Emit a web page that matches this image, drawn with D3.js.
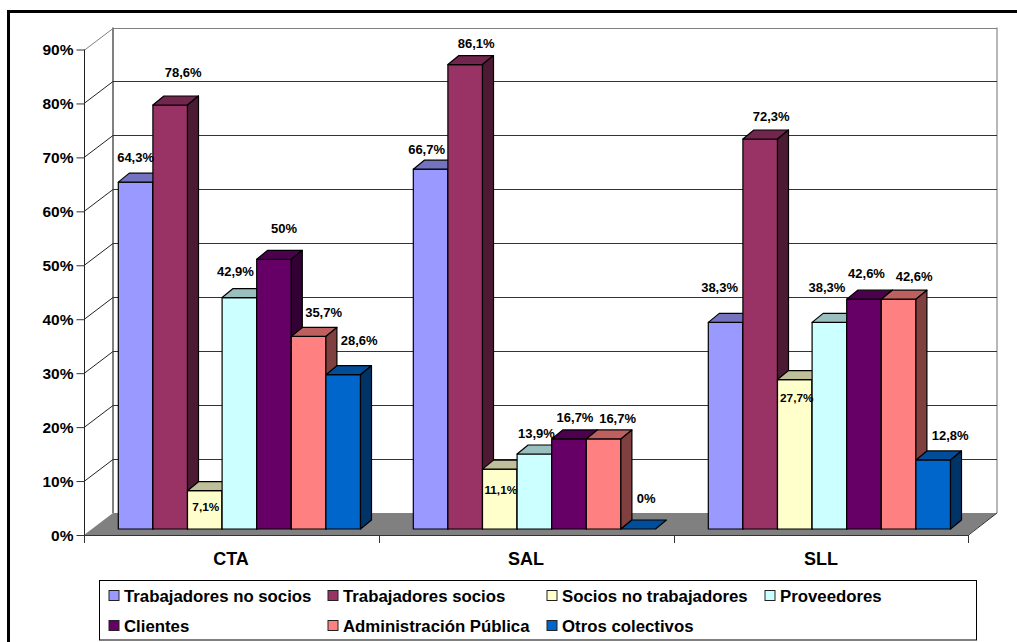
<!DOCTYPE html>
<html><head><meta charset="utf-8">
<script src="https://cdnjs.cloudflare.com/ajax/libs/d3/7.8.5/d3.min.js"></script>
<style>html,body{margin:0;padding:0;background:#fff}svg{display:block}text{font-family:"Liberation Sans",Arial,sans-serif;font-weight:bold;fill:#000}</style>
</head><body><svg id="c" width="1017" height="642"></svg>
<script>
const categories = ["CTA","SAL","SLL"];
const seriesNames = ["Trabajadores no socios","Trabajadores socios","Socios no trabajadores","Proveedores","Clientes","Administración Pública","Otros colectivos"];
const trabajadoresNoSocios = [64.3,66.7,38.3];
const trabajadoresSocios = [78.6,86.1,72.3];
const sociosNoTrabajadores = [7.1,11.1,27.7];
const proveedores = [42.9,13.9,38.3];
const clientes = [50,16.7,42.6];
const administracionPublica = [35.7,16.7,42.6];
const otrosColectivos = [28.6,0,12.8];
const yTicks = [0,10,20,30,40,50,60,70,80,90];
const seriesValues = [trabajadoresNoSocios,trabajadoresSocios,sociosNoTrabajadores,proveedores,clientes,administracionPublica,otrosColectivos];
const colors = ["#9999FF","#993366","#FFFFCC","#CCFFFF","#660066","#FF8080","#0066CC"];

// label placement, as offsets (dx, dy) from the bar's front-top centre: [series][category]
const labelOffsets = [
 [[0,-25],[-4,-20],[-6,-35]],
 [[13,-33],[11,-21],[11,-23]],
 [[1,16],[1,21],[2,18.5]],
 [[-4,-26],[2,-21],[-2.5,-35]],
 [[10,-31],[6,-21.5],[2.5,-26]],
 [[15,-24],[14,-20.5],[15.5,-23]],
 [[16,-34],[8,-31],[17,-24.5]]
];

const fmt = v => String(v).replace(".",",")+"%";
const svg = d3.select("#c");
const X0=84, X1=968, Y0=535, Y90=49.5, DX=29, DY=22;
const BAR_INSET_Y=6, BAR_DX=11, BAR_DY=9;
const y = d3.scaleLinear().domain([0,90]).range([Y0,Y90]);
const xCat = d3.scaleBand().domain(categories).range([X0,X1+1]);
const xBar = d3.scaleBand().domain(d3.range(seriesNames.length)).range([34.3,34.3+34.6*7]);

// outer frame
svg.append("path").attr("d","M8.5,642V11.5H1017").attr("fill","none").attr("stroke","#000").attr("stroke-width",3);

// floor
svg.append("polygon").attr("points",[[X0,Y0],[X1,Y0],[X1+DX,Y0-DY],[X0+DX,Y0-DY]].join(" ")).attr("fill","#808080");

// walls
const wall="#808080";
svg.append("line").attr("x1",X0+DX).attr("x2",X0+DX).attr("y1",y(90)-DY).attr("y2",Y0-DY).attr("stroke",wall).attr("stroke-width",2);
svg.append("line").attr("x1",X1+DX).attr("x2",X1+DX).attr("y1",y(90)-DY).attr("y2",Y0-DY).attr("stroke","#a0a0a0").attr("stroke-width",1.5);
yTicks.forEach(t=>{
  const yy=Math.round(y(t))+.5;
  if(t>0) svg.append("line").attr("x1",X0+DX).attr("x2",X1+DX).attr("y1",yy-DY).attr("y2",yy-DY).attr("stroke",t==90?"#808080":"#333").attr("stroke-width",1);
  if(t>0) svg.append("line").attr("x1",X0).attr("x2",X0+DX).attr("y1",yy).attr("y2",yy-DY).attr("stroke",t==90?"#808080":"#222").attr("stroke-width",1);
});

// axes
const yAxis=d3.axisLeft(y).tickValues(yTicks).tickSize(8).tickFormat(d=>d+"%");
const ga=svg.append("g").attr("transform",`translate(${X0+.5},0)`).call(yAxis);
ga.select(".domain").attr("stroke","#222").attr("d",`M0,${y(90)}V${Y0}`);
ga.selectAll("line").attr("stroke","#333");
ga.selectAll("text").attr("font-size",15.5).attr("x",-11).attr("dy","0.33em").attr("fill","#000");
svg.append("path").attr("d",`M${X0},${Y0+.5}H${X1}L${X1+DX},${Y0-DY}`).attr("fill","none").attr("stroke","#333");
[0,1,2,3].forEach(i=>{
  const xx=Math.min(Math.round(X0+i*xCat.bandwidth()),X1)+.5;
  svg.append("line").attr("x1",xx).attr("x2",xx).attr("y1",Y0).attr("y2",Y0+8).attr("stroke","#333");
});
categories.forEach(c=>{
  svg.append("text").attr("x",xCat(c)+xCat.bandwidth()/2-.5).attr("y",565).attr("text-anchor","middle").attr("font-size",18).text(c);
});

// bars
const shade=(c,k)=>{const r=d3.rgb(c);return d3.rgb(r.r*k,r.g*k,r.b*k).formatHex();};
const barBase=Y0-BAR_INSET_Y;
const labels=[];
categories.forEach((c,ci)=>{
  seriesNames.forEach((s,si)=>{
    const v=seriesValues[si][ci];
    const x0=xCat(c)+xBar(si), w=xBar.bandwidth();
    const top=y(v)-BAR_INSET_Y;
    const g=svg.append("g").attr("stroke","#000").attr("stroke-width",1.2).attr("stroke-linejoin","round");
    if(v>0) g.append("rect").attr("x",x0).attr("y",top).attr("width",w).attr("height",barBase-top).attr("fill",colors[si]);
    g.append("polygon").attr("points",[[x0,top],[x0+w,top],[x0+w+BAR_DX,top-BAR_DY],[x0+BAR_DX,top-BAR_DY]].join(" ")).attr("fill",shade(colors[si],.75));
    if(v>0) g.append("polygon").attr("points",[[x0+w,top],[x0+w+BAR_DX,top-BAR_DY],[x0+w+BAR_DX,barBase-BAR_DY],[x0+w,barBase]].join(" ")).attr("fill",shade(colors[si],.5));
    const o=labelOffsets[si][ci];
    labels.push({x:x0+w/2+o[0],y:top+o[1],t:fmt(v),inside:si==2});
  });
});
svg.append("g").selectAll("text").data(labels).join("text")
  .attr("x",d=>d.x).attr("y",d=>d.y).attr("dy","0.36em").attr("text-anchor","middle")
  .attr("font-size",d=>d.inside?11.8:13).text(d=>d.t);

// legend
svg.append("rect").attr("x",99.5).attr("y",580.5).attr("width",877).attr("height",59.5).attr("fill","#fff").attr("stroke","#000").attr("stroke-width",1);
const legendX=[109,328,547,765,109,328,547];
const legendRow=[0,0,0,0,1,1,1];
seriesNames.forEach((s,i)=>{
  const lx=legendX[i], ly=595.5+legendRow[i]*30;
  svg.append("rect").attr("x",lx).attr("y",ly-5).attr("width",10).attr("height",10).attr("fill",colors[i]).attr("stroke","#222").attr("stroke-width",1);
  svg.append("text").attr("x",lx+15).attr("y",ly).attr("dy","0.36em").attr("font-size",16.8).text(s);
});
</script></body></html>
